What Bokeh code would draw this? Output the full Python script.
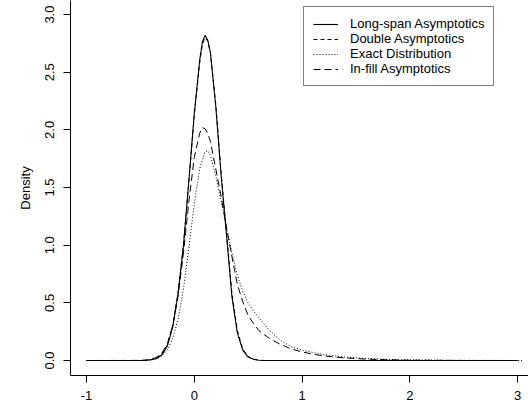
from bokeh.plotting import figure
from bokeh.models import Range1d, Legend, LegendItem, FixedTicker
from bokeh.embed import file_html
from bokeh.resources import INLINE

# ---- data ----
series_names = ["Long-span Asymptotics", "Double Asymptotics",
                "Exact Distribution", "In-fill Asymptotics"]

x_longspan = [-1.0, -0.5, -0.45, -0.4, -0.35, -0.3, -0.25, -0.2, -0.15, -0.1, -0.05,
              0.0, 0.05, 0.075, 0.1, 0.125, 0.15, 0.2, 0.25, 0.3, 0.35, 0.4, 0.45,
              0.5, 0.55, 0.6, 0.65, 3.0]
y_longspan = [0.0, 0.0, 0.002, 0.006, 0.018, 0.05, 0.125, 0.29, 0.58, 1.0, 1.56,
              2.14, 2.6, 2.76, 2.82, 2.78, 2.67, 2.2, 1.6, 1.08, 0.55, 0.24, 0.09,
              0.03, 0.01, 0.002, 0.0, 0.0]

x_double = [-1.0, -0.5, -0.45, -0.4, -0.35, -0.3, -0.25, -0.2, -0.15, -0.1, -0.05,
            0.0, 0.05, 0.075, 0.1, 0.125, 0.15, 0.2, 0.25, 0.3, 0.35, 0.4, 0.45,
            0.5, 0.55, 0.6, 0.65, 3.0]
y_double = [0.0, 0.0, 0.003, 0.008, 0.022, 0.056, 0.135, 0.3, 0.59, 1.0, 1.55,
            2.12, 2.58, 2.74, 2.8, 2.77, 2.67, 2.22, 1.62, 1.1, 0.58, 0.26, 0.1,
            0.035, 0.012, 0.003, 0.0, 0.0]

x_exact = [-1.0, -0.5, -0.45, -0.4, -0.35, -0.3, -0.25, -0.2, -0.15, -0.1, -0.05,
           0.0, 0.05, 0.1, 0.125, 0.15, 0.2, 0.25, 0.3, 0.35, 0.4, 0.45, 0.5, 0.55,
           0.6, 0.7, 0.8, 0.9, 1.0, 1.1, 1.2, 1.4, 1.6, 1.8, 2.0, 2.5, 3.05]
y_exact = [0.0, 0.0, 0.002, 0.005, 0.015, 0.04, 0.09, 0.19, 0.36, 0.62, 0.98,
           1.36, 1.66, 1.81, 1.82, 1.78, 1.6, 1.38, 1.15, 0.93, 0.74, 0.6, 0.5, 0.43,
           0.37, 0.26, 0.175, 0.12, 0.09, 0.07, 0.052, 0.03, 0.017, 0.009, 0.005, 0.001, 0.0]

x_infill = [-1.0, -0.5, -0.45, -0.4, -0.35, -0.3, -0.25, -0.2, -0.15, -0.1, -0.05,
            0.0, 0.05, 0.075, 0.1, 0.125, 0.15, 0.2, 0.25, 0.3, 0.35, 0.4, 0.45,
            0.5, 0.55, 0.6, 0.7, 0.8, 0.9, 1.0, 1.1, 1.2, 1.4, 1.6, 1.8, 2.0, 2.5, 3.0]
y_infill = [0.0, 0.001, 0.003, 0.01, 0.028, 0.065, 0.145, 0.3, 0.56, 0.93, 1.38,
            1.76, 1.97, 2.02, 2.01, 1.97, 1.9, 1.66, 1.42, 1.15, 0.9, 0.66, 0.51,
            0.39, 0.32, 0.26, 0.19, 0.14, 0.1, 0.075, 0.055, 0.04, 0.022, 0.012,
            0.006, 0.003, 0.0005, 0.0]

x_ticks = [-1, 0, 1, 2, 3]
x_tick_labels = ["-1", "0", "1", "2", "3"]
y_ticks = [0.0, 0.5, 1.0, 1.5, 2.0, 2.5, 3.0]
y_tick_labels = ["0.0", "0.5", "1.0", "1.5", "2.0", "2.5", "3.0"]
y_title = "Density"

FONT = "Liberation Sans"
FS = "13px"

p = figure(width=528, height=412, output_backend="svg", toolbar_location=None,
           title=None,
           x_range=Range1d(-1.1485, 3.102), y_range=Range1d(-0.130, 3.122),
           min_border_left=70, min_border_right=0, min_border_top=0,
           min_border_bottom=37)
p.outline_line_color = None
p.xgrid.visible = False
p.ygrid.visible = False
p.background_fill_color = "white"
p.border_fill_color = "white"

for ax in (p.xaxis[0], p.yaxis[0]):
    ax.axis_line_color = "black"
    ax.axis_line_width = 1
    ax.major_tick_line_color = "black"
    ax.major_tick_in = 0
    ax.major_tick_out = 7
    ax.minor_tick_line_color = None
    ax.major_label_text_font = FONT
    ax.major_label_text_font_size = FS
    ax.major_label_text_color = "black"
    ax.axis_label_text_font = FONT
    ax.axis_label_text_font_size = FS
    ax.axis_label_text_font_style = "normal"
    ax.axis_label_text_color = "black"

p.xaxis.ticker = FixedTicker(ticks=x_ticks)
p.xaxis.major_label_overrides = {t: s for t, s in zip(x_ticks, x_tick_labels)}
p.xaxis.major_label_standoff = 8

p.yaxis.ticker = FixedTicker(ticks=y_ticks)
p.yaxis.major_label_overrides = {t: s for t, s in zip(y_ticks, y_tick_labels)}
p.yaxis.major_label_orientation = "vertical"
p.yaxis.major_label_standoff = 9
p.yaxis.axis_label = y_title
p.yaxis.axis_label_standoff = 10

r1 = p.line(x_longspan, y_longspan, line_color="black", line_width=1.1)
r2 = p.line(x_double, y_double, line_color="black", line_width=1, line_dash="4 3")
r3 = p.line(x_exact, y_exact, line_color="black", line_width=1, line_dash="1 2")
r4 = p.line(x_infill, y_infill, line_color="black", line_width=1, line_dash="7 4")

legend = Legend(
    items=[LegendItem(label=n, renderers=[r]) for n, r in zip(series_names, [r1, r2, r3, r4])],
    location=(233, 289), margin=0, padding=9, spacing=0,
    glyph_width=25, glyph_height=14, label_height=14, label_standoff=12,
    label_text_font=FONT, label_text_font_size=FS, label_text_color="black",
    border_line_color="black", border_line_width=1,
    background_fill_color="white", background_fill_alpha=1.0,
)
p.add_layout(legend)

open("out.html", "w").write(file_html(p, INLINE))
